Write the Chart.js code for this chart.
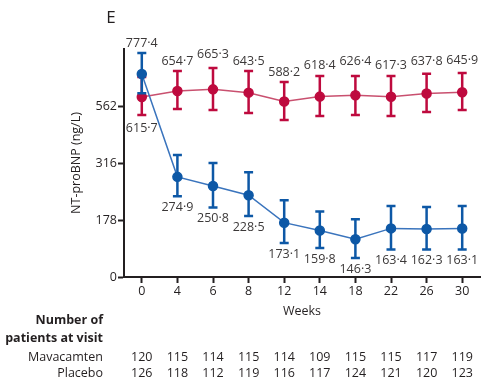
<!DOCTYPE html>
<html>
<head>
<meta charset="utf-8">
<script src="https://cdn.jsdelivr.net/npm/chart.js@4/dist/chart.umd.min.js"></script>
<style>
  html, body { margin: 0; padding: 0; background: #fff; }
  #wrap { width: 481px; height: 379px; position: relative; }
</style>
</head>
<body>
<div id="wrap"><canvas id="chart" width="481" height="379"></canvas></div>
<script>
// data
const weeks = ["0", "4", "6", "8", "12", "14", "18", "22", "26", "30"];

const mavaValues = [777.4, 274.9, 250.8, 228.5, 173.1, 159.8, 146.3, 163.4, 162.3, 163.1];
const mavaLow = [640, 226, 202, 185, 141, 134, 121, 132, 132, 132];
const mavaHigh = [961, 343, 316, 288, 217, 194, 179, 205, 203, 205];

const placValues = [615.7, 654.7, 665.3, 643.5, 588.2, 618.4, 626.4, 617.3, 637.8, 645.9];
const placLow = [513, 545, 540, 524, 488, 508, 513, 508, 529, 540];
const placHigh = [754, 801, 826, 801, 717, 762, 762, 762, 778, 785];

const mavaCounts = [120, 115, 114, 115, 114, 109, 115, 115, 117, 119];
const placCounts = [126, 118, 112, 119, 116, 117, 124, 121, 120, 123];

const yTickValues = [100, 177.8, 316.2, 562.3];
const yTickLabels = ["0", "178", "316", "562"];

// extra lift (px) of some placebo labels, as staggered in the original
const placLabelLift = [0, 0, 3, 0, 0, 0, 4, 0, 2, 3];

const BLUE = "#0d58a6";
const BLUE_LINE = "#3a74bd";
const RED = "#be0a3e";
const RED_LINE = "#c9506f";
const INK = "#231f20";
const FONT = "'Open Sans', sans-serif";

const fmt = v => v.toFixed(1).replace(".", "\u00b7");

// error bars, drawn just before each dataset so points sit on top
const errorBars = {
  id: "errorBars",
  beforeDatasetDraw(chart, args) {
    const ds = chart.data.datasets[args.index];
    const x = chart.scales.x, y = chart.scales.y;
    const c = chart.ctx;
    c.save();
    c.strokeStyle = ds.pointBackgroundColor;
    c.lineWidth = 2.5;
    ds.low.forEach((lo, i) => {
      const px = x.getPixelForValue(i);
      const top = y.getPixelForValue(ds.high[i]);
      const bot = y.getPixelForValue(lo);
      c.beginPath();
      c.moveTo(px, top); c.lineTo(px, bot);
      c.moveTo(px - 4.5, top); c.lineTo(px + 4.5, top);
      c.moveTo(px - 4.5, bot); c.lineTo(px + 4.5, bot);
      c.stroke();
    });
    c.restore();
  }
};

// value labels, patients table and panel letter
const annotations = {
  id: "annotations",
  afterDraw(chart) {
    const x = chart.scales.x, y = chart.scales.y;
    const c = chart.ctx;
    c.save();
    c.fillStyle = "#3b3838";
    c.font = "12.5px " + FONT;
    c.textAlign = "center";
    c.textBaseline = "middle";
    mavaValues.forEach((v, i) => {
      const px = x.getPixelForValue(i);
      const py = i === 0 ? y.getPixelForValue(mavaHigh[i]) - 10 : y.getPixelForValue(mavaLow[i]) + 11;
      c.fillText(fmt(v), px, py);
    });
    placValues.forEach((v, i) => {
      const px = x.getPixelForValue(i);
      const py = i === 0 ? y.getPixelForValue(placLow[i]) + 13 : y.getPixelForValue(placHigh[i]) - 10 - placLabelLift[i];
      c.fillText(fmt(v), px, py);
    });

    // patients at visit
    c.fillStyle = INK;
    c.textAlign = "right";
    c.font = "bold 12.5px " + FONT;
    c.fillText("Number of", 103, 320);
    c.fillText("patients at visit", 103, 338);
    c.font = "12.5px " + FONT;
    c.fillText("Mavacamten", 103, 357);
    c.fillText("Placebo", 103, 373);
    c.textAlign = "center";
    mavaCounts.forEach((n, i) => c.fillText(n, x.getPixelForValue(i), 357));
    placCounts.forEach((n, i) => c.fillText(n, x.getPixelForValue(i), 373));

    c.font = "17px " + FONT;
    c.fillText("E", 111, 18);
    c.restore();
  }
};

const ctx = document.getElementById("chart").getContext("2d");
new Chart(ctx, {
  type: "line",
  data: {
    labels: weeks,
    datasets: [
      {
        label: "Mavacamten",
        data: mavaValues,
        low: mavaLow,
        high: mavaHigh,
        borderColor: BLUE_LINE,
        borderWidth: 1.5,
        pointBackgroundColor: BLUE,
        pointBorderColor: BLUE,
        pointRadius: 4.5,
        tension: 0,
        clip: false,
        order: 0
      },
      {
        label: "Placebo",
        data: placValues,
        low: placLow,
        high: placHigh,
        borderColor: RED_LINE,
        borderWidth: 1.5,
        pointBackgroundColor: RED,
        pointBorderColor: RED,
        pointRadius: 4.5,
        tension: 0,
        clip: false,
        order: 1
      }
    ]
  },
  options: {
    responsive: false,
    animation: false,
    layout: { autoPadding: false, padding: { top: 49, right: 1, bottom: 0, left: 0 } },
    plugins: {
      legend: { display: false },
      tooltip: { enabled: false }
    },
    scales: {
      x: {
        type: "category",
        offset: true,
        afterFit: s => { s.height = 102; },
        border: { display: true, color: INK, width: 2 },
        grid: { drawOnChartArea: false, drawTicks: true, tickLength: 6, tickWidth: 2, tickColor: INK },
        ticks: { color: INK, padding: 1, font: { family: FONT, size: 12.5 } },
        title: {
          display: true, text: "Weeks", color: INK,
          font: { family: FONT, size: 12.5 },
          padding: { top: 0, bottom: 60.5 }
        }
      },
      y: {
        type: "logarithmic",
        min: 100,
        max: 1000,
        afterFit: s => { s.width = 124; },
        afterBuildTicks: s => { s.ticks = yTickValues.map(v => ({ value: v })); },
        border: { display: true, color: INK, width: 2 },
        grid: { drawOnChartArea: false, drawTicks: true, tickLength: 6, tickWidth: 2, tickColor: INK },
        ticks: {
          color: INK, padding: 1,
          font: { family: FONT, size: 12.5 },
          callback: (v, i) => yTickLabels[i]
        },
        title: {
          display: true, text: "NT-proBNP (ng/L)", color: INK,
          font: { family: FONT, size: 12.5 },
          padding: { top: 68.5, bottom: 0 }
        }
      }
    }
  },
  plugins: [errorBars, annotations]
});
</script>
</body>
</html>
